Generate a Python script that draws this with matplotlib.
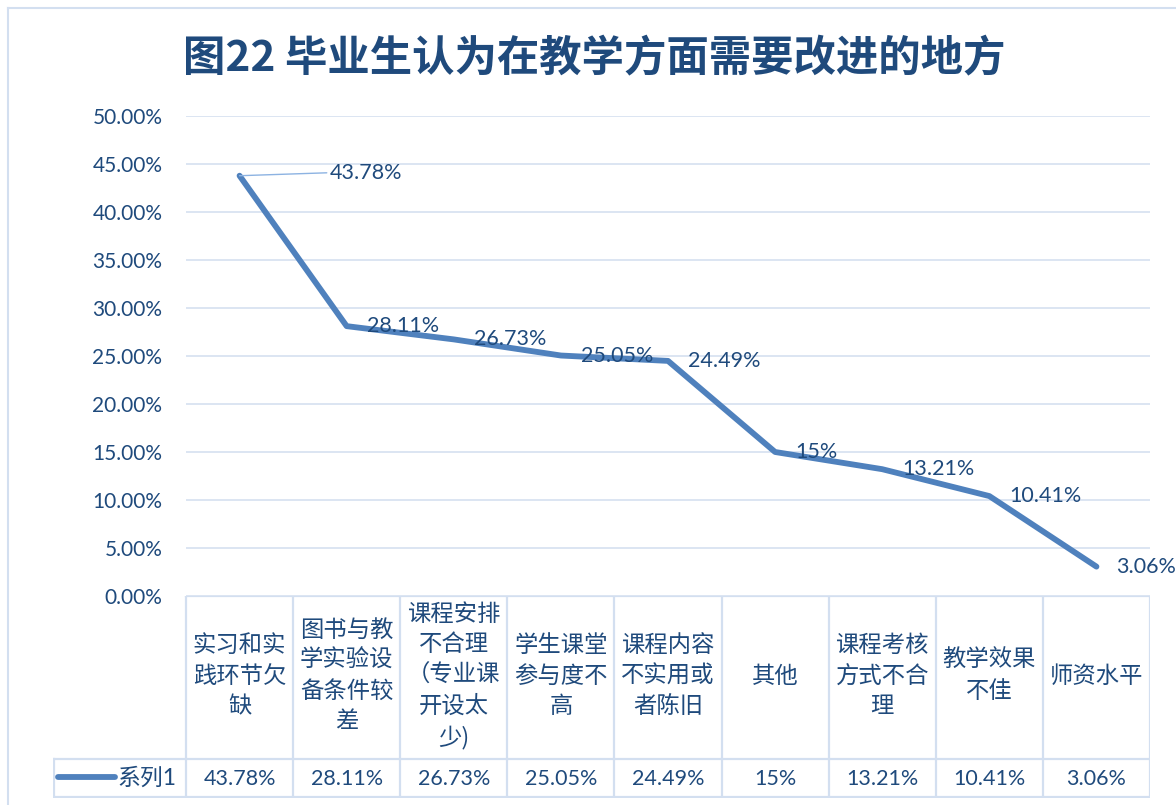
import matplotlib
matplotlib.use("Agg")
import matplotlib.pyplot as plt
from matplotlib.ticker import FixedLocator, FuncFormatter

# ---------------- data ----------------
title = "图22 毕业生认为在教学方面需要改进的地方"
categories = ["实习和实践环节欠缺", "图书与教学实验设备条件较差", "课程安排不合理（专业课开设太少)",
              "学生课堂参与度不高", "课程内容不实用或者陈旧", "其他",
              "课程考核方式不合理", "教学效果不佳", "师资水平"]
values = [43.78, 28.11, 26.73, 25.05, 24.49, 15, 13.21, 10.41, 3.06]
value_labels = ["43.78%", "28.11%", "26.73%", "25.05%", "24.49%", "15%", "13.21%", "10.41%", "3.06%"]
series_name = "系列1"
y_ticks = [0, 5, 10, 15, 20, 25, 30, 35, 40, 45, 50]

# ---------------- style ----------------
TXT = "#1F4A7C"
LINE = "#4F81BD"
GRID = "#D9E3F1"
BORDER = "#D3DFF0"
NUM_FONT = ["Lato", "Noto Sans CJK SC", "DejaVu Sans"]
CJK_FONT = ["Noto Sans CJK SC", "DejaVu Sans"]
plt.rcParams["font.family"] = CJK_FONT

W, H = 1176, 805
fig = plt.figure(figsize=(W / 100, H / 100), dpi=100)
fig.patch.set_facecolor("white")


def wrap(s, width=4.0):
    lines, cur, w = [], "", 0.0
    for ch in s:
        cw = 0.5 if ord(ch) < 128 else 1.0
        if w + cw > width and cur:
            if ch in ")）":
                lines.append(cur[:-1]); cur = cur[-1]; w = 1.0
            elif cur.endswith("（"):
                lines.append(cur[:-1]); cur = "（"; w = 1.0
            else:
                lines.append(cur); cur = ""; w = 0.0
        cur += ch; w += cw
    if cur:
        lines.append(cur)
    return "\n".join(lines)


# chart border
fig.add_artist(plt.Line2D([8 / W, 8 / W], [0, 1 - 8 / H], transform=fig.transFigure, color=BORDER, lw=1.5))
fig.add_artist(plt.Line2D([8 / W, 1], [1 - 8 / H, 1 - 8 / H], transform=fig.transFigure, color=BORDER, lw=1.5))

# title
fig.text(594 / W, 1 - 58 / H, title, ha="center", va="center", fontsize=30.5, fontweight="bold",
         color=TXT, family=CJK_FONT)

# ---------------- main plot ----------------
L, R, T, B = 186, 1150, 116, 596
ax = fig.add_axes([L / W, 1 - B / H, (R - L) / W, (B - T) / H])
x = list(range(len(values)))
ax.plot(x, values, color=LINE, lw=4.2, solid_joinstyle="round", solid_capstyle="round", zorder=3)
ax.set_xlim(-0.5, len(values) - 0.5)
ax.set_ylim(0, 50)
ax.yaxis.set_major_locator(FixedLocator(y_ticks))
ax.yaxis.set_major_formatter(FuncFormatter(lambda v, p: f"{v:.2f}%"))
ax.set_xticks([])
ax.tick_params(axis="y", length=0, pad=17, labelsize=15, labelcolor=TXT)
for lab in ax.get_yticklabels():
    lab.set_family(NUM_FONT)
for v in y_ticks:
    ax.axhline(v, color=GRID, lw=1.3, zorder=1)
for s in ax.spines.values():
    s.set_visible(False)
ax.set_facecolor("none")

for i, (v, lab) in enumerate(zip(values, value_labels)):
    if i == 0:
        ax.annotate(lab, (i, v), xytext=(90, 3), textcoords="offset pixels", ha="left", va="center",
                    fontsize=15.5, color=TXT, family=NUM_FONT,
                    arrowprops=dict(arrowstyle="-", color="#8DB3E2", lw=1.0, shrinkA=0, shrinkB=0,
                                    relpos=(0, 0.5)), annotation_clip=False)
    else:
        ax.annotate(lab, (i, v), xytext=(20, 0), textcoords="offset pixels", ha="left", va="center",
                    fontsize=15.5, color=TXT, family=NUM_FONT, annotation_clip=False, zorder=4)

# ---------------- data table ----------------
TL, TT, TM, TB = 53, 596, 759, 798
unit = (R - L) / len(values)
x_left = -0.5 - (L - TL) / unit
axt = fig.add_axes([TL / W, 1 - TB / H, (R - TL) / W, (TB - TT) / H])
axt.set_xlim(x_left, len(values) - 0.5)
axt.set_ylim(TB, TT)
axt.axis("off")
n = len(values)
axt.plot([-0.5, n - 0.5], [TT, TT], color=BORDER, lw=1.6)
axt.plot([x_left, n - 0.5], [TM, TM], color=BORDER, lw=1.6)
axt.plot([x_left, n - 0.5], [TB - 0.8, TB - 0.8], color=BORDER, lw=1.6)
for k in range(n + 1):
    axt.plot([k - 0.5, k - 0.5], [TT, TB], color=BORDER, lw=1.6)
axt.plot([x_left + 0.01, x_left + 0.01], [TM, TB], color=BORDER, lw=1.6)

for i, (c, lab) in enumerate(zip(categories, value_labels)):
    axt.text(i, 676, wrap(c), ha="center", va="center", fontsize=16.8, color=TXT,
             family=CJK_FONT, linespacing=1.42)
    axt.text(i, 778.5, lab, ha="center", va="center", fontsize=15.5, color=TXT, family=NUM_FONT)

# legend key in table
axt.plot([x_left + 5 / unit, x_left + 62 / unit], [777, 777], color=LINE, lw=4.2, solid_capstyle="round")
axt.text(x_left + 64 / unit, 778, series_name, ha="left", va="center", fontsize=16.5, color=TXT, family=NUM_FONT)

fig.savefig("out.png", dpi=100, facecolor="white")
